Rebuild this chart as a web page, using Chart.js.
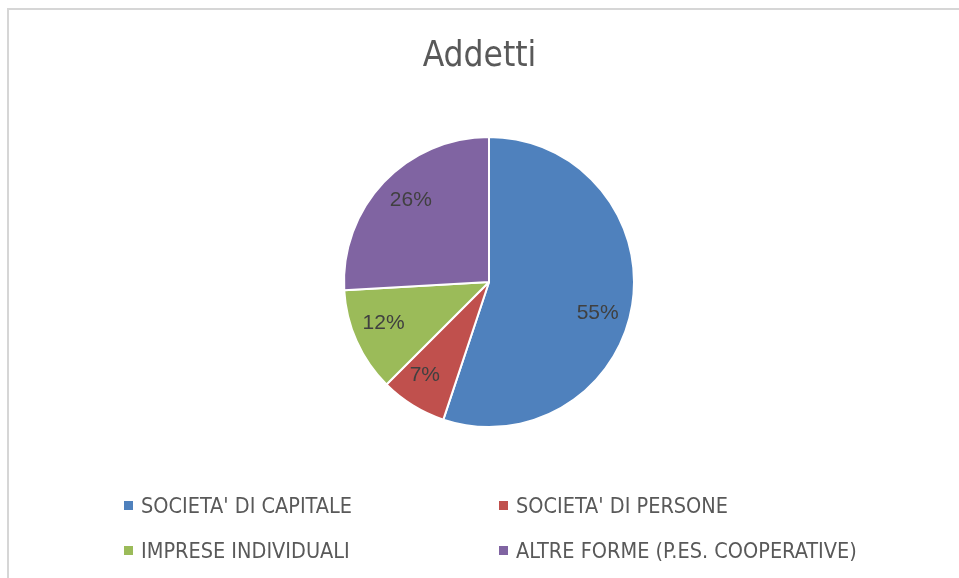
<!DOCTYPE html>
<html>
<head>
<meta charset="utf-8">
<script src="https://cdn.jsdelivr.net/npm/chart.js@4/dist/chart.umd.min.js"></script>
<style>
  html, body { margin: 0; padding: 0; background: #fff; }
  #wrap { position: relative; width: 959px; height: 578px; overflow: hidden; }
  #frame { position: absolute; left: 7px; top: 8px; right: -10px; bottom: -10px;
           border-top: 2px solid #d6d6d6; border-left: 2px solid #d6d6d6; }
  #Chart { position: absolute; left: 0; top: 0; }
  #title { position: absolute; left: 0; width: 959px; top: 34px; text-align: center;
           font-family: "Liberation Sans Narrow", "DejaVu Sans Condensed", sans-serif;
           font-size: 35px; color: #595959; }
  .leg { position: absolute; font-family: "Liberation Sans Narrow", "DejaVu Sans Condensed", sans-serif;
         font-size: 21.5px; color: #595959; white-space: nowrap; line-height: 24px; }
  .leg span.box { position: absolute; left: 0; top: 7px; width: 9px; height: 9px; }
  .leg span.txt { position: absolute; left: 17px; top: 0; }
</style>
</head>
<body>
<div id="wrap">
  <div id="frame"></div>
  <canvas id="Chart" width="959" height="578"></canvas>
  <div id="title">Addetti</div>
  <div id="legend"></div>
</div>
<script>
// dati
var titolo = 'Addetti';
var categorie = ["SOCIETA' DI CAPITALE", "SOCIETA' DI PERSONE", "IMPRESE INDIVIDUALI", "ALTRE FORME (P.ES. COOPERATIVE)"];
var valori = [55.1, 7.4, 11.6, 25.9];
var colori = ['#4F81BD', '#C0504D', '#9BBB59', '#8064A2'];

// posizione legenda (2 colonne)
var legX = [124, 499];
var legY = [494, 539];

// etichette percentuali dentro le fette
const percentLabels = {
    id: 'percentLabels',
    afterDatasetsDraw(chart) {
        const c = chart.ctx;
        const meta = chart.getDatasetMeta(0);
        const tot = valori.reduce((a, b) => a + b, 0);
        c.save();
        c.font = '21px "Liberation Sans", sans-serif';
        c.fillStyle = '#404040';
        c.textAlign = 'center';
        c.textBaseline = 'middle';
        meta.data.forEach((arc, i) => {
            // la fetta grande ha l'etichetta un po' più in basso, come in excel
            const mid = (arc.startAngle + arc.endAngle) / 2 + (i === 0 ? 0.12 : 0.05);
            const r = arc.outerRadius * 0.78;
            const x = arc.x + Math.cos(mid) * r;
            const y = arc.y + Math.sin(mid) * r;
            c.fillText(Math.round(valori[i] / tot * 100) + '%', x, y);
        });
        c.restore();
    }
};

const ctx = document.getElementById('Chart');
const chart = new Chart(ctx, {
    type: 'pie',
    data: {
        labels: categorie,
        datasets: [{
            data: valori,
            backgroundColor: colori,
            borderColor: '#ffffff',
            borderWidth: 2
        }]
    },
    options: {
        responsive: false,
        animation: false,
        layout: {
            padding: { left: 343, right: 324, top: 136, bottom: 150 }
        },
        plugins: {
            legend: { display: false },
            tooltip: { enabled: false },
            title: { display: false }
        }
    },
    plugins: [percentLabels]
});

// legenda html
var legend = document.getElementById('legend');
categorie.forEach(function(nome, i) {
    var d = document.createElement('div');
    d.className = 'leg';
    d.style.left = legX[i % 2] + 'px';
    d.style.top = legY[Math.floor(i / 2)] + 'px';
    d.innerHTML = '<span class="box" style="background:' + colori[i] + '"></span><span class="txt"></span>';
    d.querySelector('.txt').textContent = nome;
    legend.appendChild(d);
});
</script>
</body>
</html>
